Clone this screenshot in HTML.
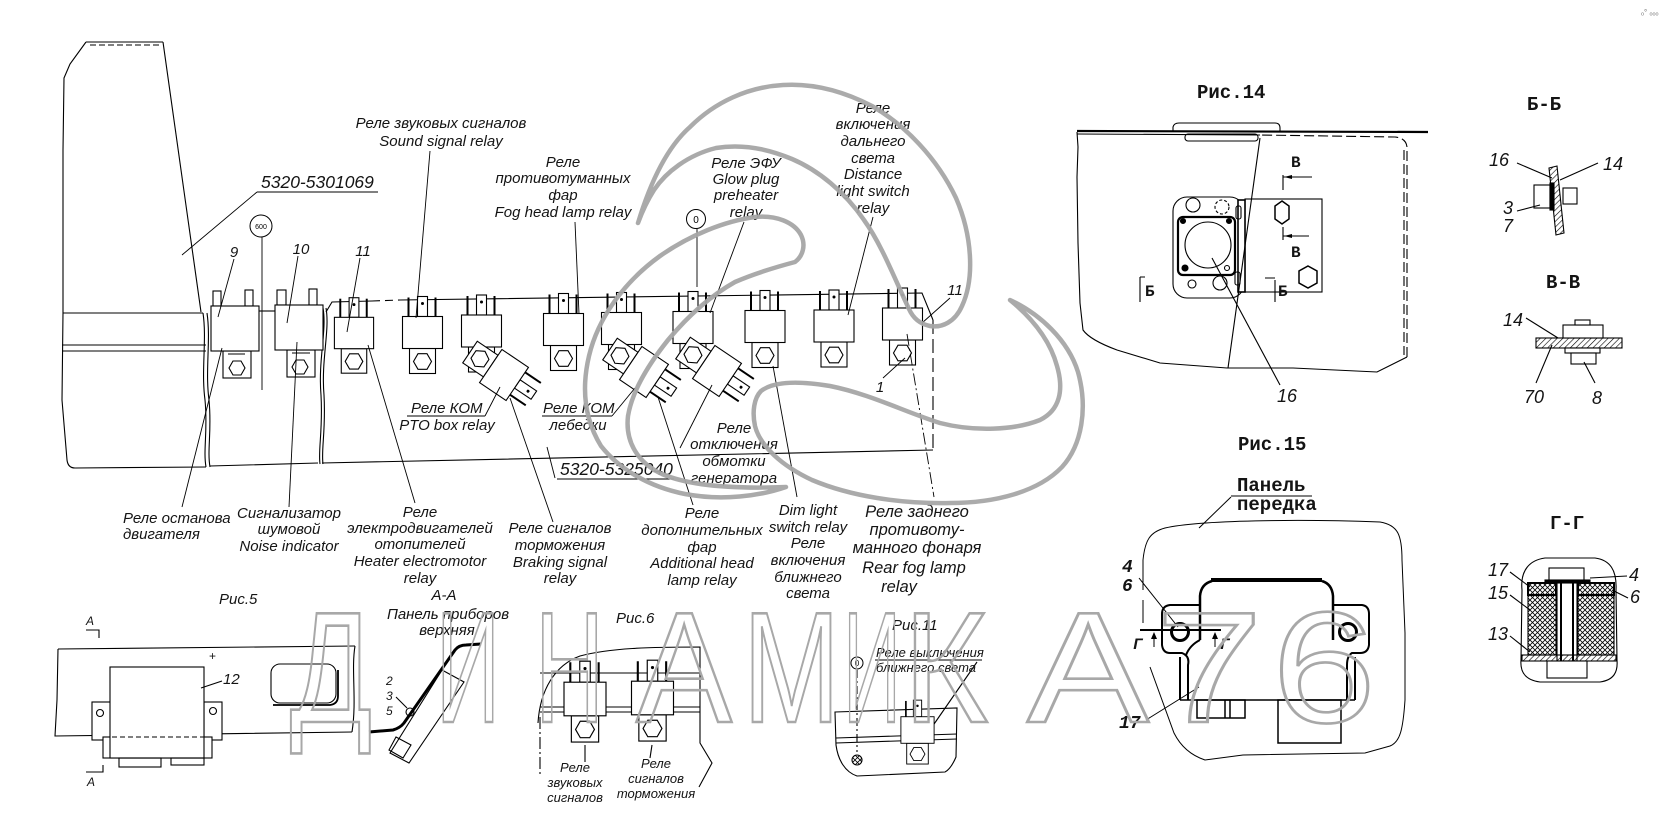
<!DOCTYPE html>
<html><head><meta charset="utf-8">
<style>
html,body{margin:0;padding:0;background:#fff;overflow:hidden;}
svg{display:block;}
.l{font-family:"Liberation Sans","DejaVu Sans",sans-serif;font-style:italic;font-size:15px;fill:#141414;}
.c{text-anchor:middle;}
.s13{font-size:13px;}
.s16{font-size:16.5px;}
.big{font-size:17.5px;}
.m{font-family:"Liberation Mono","DejaVu Sans Mono",monospace;font-weight:bold;font-size:19px;fill:#141414;}
.mi{font-family:"Liberation Mono","DejaVu Sans Mono",monospace;font-weight:bold;font-style:italic;font-size:18px;fill:#141414;}
.n{font-family:"Liberation Sans","DejaVu Sans",sans-serif;font-style:italic;font-size:18px;fill:#141414;}
</style></head>
<body>
<svg width="1669" height="832" viewBox="0 0 1669 832" xmlns="http://www.w3.org/2000/svg">
<defs>
<g id="rel">
 <rect x="-5" y="-36" width="10" height="20" fill="#fff" stroke="#000" stroke-width="1.1"/>
 <circle cx="0" cy="-29" r="1.5" fill="#000"/>
 <line x1="-14" y1="-35" x2="-14" y2="-16" stroke="#000" stroke-width="2"/>
 <line x1="13" y1="-35" x2="13" y2="-16" stroke="#000" stroke-width="2"/>
 <rect x="-13" y="16" width="26" height="25" fill="#fff" stroke="#000" stroke-width="1.1"/>
 <polygon points="9,29 4.5,36.8 -4.5,36.8 -9,29 -4.5,21.2 4.5,21.2" fill="none" stroke="#000" stroke-width="1.1"/>
 <rect x="-20" y="-16" width="40" height="32" fill="#fff" stroke="#000" stroke-width="1.1"/>
</g>
<pattern id="xh" width="5" height="5" patternUnits="userSpaceOnUse"><path d="M0,0L5,5M5,0L0,5" stroke="#000" stroke-width="0.8"/></pattern>
<pattern id="hh" width="4" height="4" patternUnits="userSpaceOnUse" patternTransform="rotate(45)"><line x1="0" y1="0" x2="0" y2="4" stroke="#000" stroke-width="1.2"/></pattern>
</defs>

<g fill="none" stroke="#000" stroke-width="1.1">
<!-- tall panel -->
<line x1="86" y1="42" x2="163" y2="42"/>
<line x1="90" y1="45" x2="162" y2="45" stroke-dasharray="6,3"/>
<path d="M86,42 L70,64 L64,78 L63,150 L63,313 L62,400 L67,460 Q68,468 75,468"/>
<path d="M163,42 L201,312"/>
<line x1="63" y1="313" x2="203" y2="313"/>
<line x1="62" y1="345" x2="206" y2="345"/>
<line x1="62" y1="351" x2="206" y2="351"/>
<path d="M203,313 C207,340 201,370 205,400 C208,430 203,450 206,467"/>
<path d="M207,313 C211,340 205,370 209,400 C212,430 207,450 210,467"/>
<path d="M323,308 C327,330 318,360 321,395 C323,430 318,450 320,464"/>
<path d="M326,308 C330,330 321,360 324,395 C326,430 321,450 323,464"/>
<path d="M75,468 L206,467 M210,466 L318,463 M322,463 L933,450"/>
<!-- rail -->
<path d="M326,312 L332,302 L372,301"/>
<path d="M372,301 L400,300" stroke-dasharray="8,5"/>
<path d="M400,300 L922,293 L933,320"/>
<path d="M933,320 L933,450" stroke-dasharray="14,5"/>
<!-- relay 9 -->
<rect x="213" y="291" width="8" height="15" fill="#fff"/>
<rect x="245" y="290" width="8" height="16" fill="#fff"/>
<rect x="223" y="351" width="28" height="27" fill="#fff"/>
<line x1="228" y1="354" x2="245" y2="354"/>
<polygon points="245,368 241,375 233,375 229,368 233,361 241,361"/>
<rect x="211" y="306" width="48" height="45" fill="#fff"/>
<line x1="259" y1="311" x2="275" y2="311"/>
<!-- relay 10 -->
<rect x="277" y="290" width="9" height="15" fill="#fff"/>
<rect x="309" y="289" width="8" height="16" fill="#fff"/>
<rect x="287" y="350" width="28" height="27" fill="#fff"/>
<line x1="292" y1="353" x2="310" y2="353"/>
<polygon points="308,367 304,374 296,374 292,367 296,360 304,360"/>
<rect x="275" y="305" width="48" height="45" fill="#fff"/>
</g>

<!-- upright relays -->
<use href="#rel" transform="translate(354,333) scale(0.98)"/>
<use href="#rel" transform="translate(422.5,332.5)"/>
<use href="#rel" transform="translate(481.5,331)"/>
<use href="#rel" transform="translate(563.5,329.5)"/>
<use href="#rel" transform="translate(621.5,328.5)"/>
<use href="#rel" transform="translate(693,327.5)"/>
<use href="#rel" transform="translate(765,326.5)"/>
<use href="#rel" transform="translate(834,326)"/>
<use href="#rel" transform="translate(902.5,324)"/>
<!-- rotated relays -->
<use href="#rel" transform="translate(504,375) rotate(124)"/>
<use href="#rel" transform="translate(644,372) rotate(124)"/>
<use href="#rel" transform="translate(717,371) rotate(124)"/>

<!-- leaders main -->
<g fill="none" stroke="#000" stroke-width="0.9">
<line x1="257" y1="192" x2="378" y2="192"/>
<line x1="257" y1="192" x2="182" y2="255"/>
<line x1="262" y1="237" x2="262" y2="390"/>
<line x1="234" y1="259" x2="218" y2="317"/>
<line x1="298" y1="256" x2="287" y2="323"/>
<line x1="360" y1="258" x2="347" y2="332"/>
<line x1="430" y1="151" x2="416" y2="318"/>
<line x1="575" y1="222" x2="579" y2="314"/>
<line x1="744" y1="222" x2="710" y2="313"/>
<line x1="697" y1="229" x2="697" y2="287"/>
<line x1="873" y1="217" x2="848" y2="315"/>
<line x1="950" y1="298" x2="922" y2="323"/>
<line x1="883" y1="378" x2="905" y2="358"/>
<line x1="907" y1="334" x2="934" y2="497" stroke-dasharray="12,3,2,3"/>
<line x1="407" y1="416" x2="485" y2="416"/>
<line x1="485" y1="416" x2="500" y2="387"/>
<line x1="542" y1="416" x2="612" y2="416"/>
<line x1="612" y1="416" x2="635" y2="388"/>
<line x1="680" y1="448" x2="712" y2="385"/>
<line x1="547" y1="447" x2="555" y2="478"/>
<line x1="557" y1="479" x2="674" y2="479"/>
<line x1="510" y1="398" x2="553" y2="522"/>
<line x1="658" y1="397" x2="693" y2="505"/>
<line x1="773" y1="366" x2="797" y2="497"/>
<line x1="222" y1="348" x2="182" y2="507"/>
<line x1="297" y1="342" x2="289" y2="507"/>
<line x1="368" y1="345" x2="415" y2="503"/>
</g>
<circle cx="261" cy="226" r="11" fill="#fff" stroke="#000" stroke-width="1"/>
<text x="261" y="229" font-family="Liberation Sans,sans-serif" font-size="7" text-anchor="middle">600</text>
<circle cx="696" cy="219" r="9.5" fill="#fff" stroke="#000" stroke-width="1"/>
<text x="696" y="223" font-family="Liberation Sans,sans-serif" font-size="10" text-anchor="middle">0</text>

<!-- main labels -->
<g class="l">
<text class="c" x="441" y="128">Реле звуковых сигналов</text>
<text class="c" x="441" y="146">Sound signal relay</text>
<text class="big" x="261" y="188">5320-5301069</text>
<text class="c" x="563" y="167">Реле</text>
<text class="c" x="563" y="183">противотуманных</text>
<text class="c" x="563" y="200">фар</text>
<text class="c" x="563" y="217">Fog head lamp relay</text>
<text class="c" x="746" y="168">Реле ЭФУ</text>
<text class="c" x="746" y="184">Glow plug</text>
<text class="c" x="746" y="200">preheater</text>
<text class="c" x="746" y="217">relay</text>
<text class="c" x="873" y="113">Реле</text>
<text class="c" x="873" y="129">включения</text>
<text class="c" x="873" y="146">дальнего</text>
<text class="c" x="873" y="163">света</text>
<text class="c" x="873" y="179">Distance</text>
<text class="c" x="873" y="196">light switch</text>
<text class="c" x="873" y="213">relay</text>
<text class="c" x="234" y="257">9</text>
<text class="c" x="301" y="254">10</text>
<text class="c" x="363" y="256">11</text>
<text class="c" x="955" y="295">11</text>
<text class="c" x="880" y="392">1</text>
<text x="411" y="413">Реле КОМ</text>
<text class="c" x="447" y="430">PTO box relay</text>
<text x="543" y="413">Реле КОМ</text>
<text class="c" x="578" y="430">лебедки</text>
<text class="c" x="734" y="433">Реле</text>
<text class="c" x="734" y="449">отключения</text>
<text class="c" x="734" y="466">обмотки</text>
<text class="c" x="734" y="483">генератора</text>
<text class="big" x="560" y="475">5320-5325040</text>
<text x="123" y="523">Реле останова</text>
<text x="123" y="539">двигателя</text>
<text class="c" x="289" y="518">Сигнализатор</text>
<text class="c" x="289" y="534">шумовой</text>
<text class="c" x="289" y="551">Noise indicator</text>
<text class="c" x="420" y="517">Реле</text>
<text class="c" x="420" y="533">электродвигателей</text>
<text class="c" x="420" y="549">отопителей</text>
<text class="c" x="420" y="566">Heater electromotor</text>
<text class="c" x="420" y="583">relay</text>
<text class="c" x="560" y="533">Реле сигналов</text>
<text class="c" x="560" y="550">торможения</text>
<text class="c" x="560" y="567">Braking signal</text>
<text class="c" x="560" y="583">relay</text>
<text class="c" x="702" y="518">Реле</text>
<text class="c" x="702" y="535">дополнительных</text>
<text class="c" x="702" y="552">фар</text>
<text class="c" x="702" y="568">Additional head</text>
<text class="c" x="702" y="585">lamp relay</text>
<text class="c" x="808" y="515">Dim light</text>
<text class="c" x="808" y="532">switch relay</text>
<text class="c" x="808" y="548">Реле</text>
<text class="c" x="808" y="565">включения</text>
<text class="c" x="808" y="582">ближнего</text>
<text class="c" x="808" y="598">света</text>
<text class="c s16" x="917" y="517">Реле заднего</text>
<text class="c s16" x="917" y="535">противоту-</text>
<text class="c s16" x="917" y="553">манного фонаря</text>
<text class="c s16" x="914" y="573">Rear fog lamp</text>
<text class="c s16" x="899" y="592">relay</text>
</g>

<!-- Рис.5 -->
<g fill="none" stroke="#000" stroke-width="1.1">
<path d="M58,649 L355,646"/>
<path d="M58,649 L57,700 L55,736 L352,732"/>
<path d="M355,646 C351,670 357,700 352,732"/>
<rect x="92" y="702" width="19" height="38" fill="#fff"/>
<rect x="204" y="702" width="18" height="38" fill="#fff"/>
<circle cx="100" cy="713" r="3.5"/>
<circle cx="213" cy="711" r="3.5"/>
<rect x="103" y="737" width="109" height="21" fill="#fff"/>
<rect x="110" y="667" width="94" height="91" fill="#fff"/>
<line x1="104" y1="737" x2="211" y2="737" stroke-dasharray="5,3"/>
<rect x="119" y="758" width="42" height="9"/>
<rect x="171" y="758" width="33" height="7"/>
<line x1="222" y1="681" x2="201" y2="688"/>
<rect x="271" y="664" width="65" height="39" rx="9"/>
<path d="M273,705 L330,705 Q338,704 338,696 L338,670" stroke-width="1.8"/>
<path d="M86,630 L99,630 L99,638"/>
<path d="M86,772 L103,772 L103,765"/>
<!-- A-A -->
<path d="M369,732 L393,730 Q400,728 404,723 L455,650 Q459,645 466,645 L481,644" stroke-width="3"/>
<polygon points="442,670 464,682 409,763 390,753"/>
<polygon points="396,737 411,745 403,758 389,750"/>
<circle cx="410" cy="712" r="4"/>
<line x1="396" y1="697" x2="407" y2="708"/>
<!-- Рис.6 -->
<path d="M538,723 C540,690 555,665 580,656 C610,648 650,647 700,647 L700,743 L712,763 L699,787"/>
<path d="M540,717 L540,775" stroke-dasharray="12,3,2,3"/>
<line x1="540" y1="673" x2="700" y2="673"/>
<line x1="540" y1="707" x2="700" y2="707"/>
<line x1="540" y1="712" x2="700" y2="712"/>
<line x1="585" y1="745" x2="585" y2="762"/>
<line x1="652" y1="745" x2="650" y2="758"/>
<!-- Рис.11 -->
<path d="M835,712 L957,708 L956,757 C953,764 949,770 945,772 L857,776 C845,772 838,760 836,745 Z"/>
<line x1="836" y1="738" x2="957" y2="734"/>
<line x1="836" y1="743" x2="957" y2="739"/>
<line x1="857" y1="670" x2="857" y2="752" stroke-dasharray="8,3,2,3"/>
<circle cx="857" cy="760" r="5" fill="url(#xh)"/>
<line x1="875" y1="660" x2="982" y2="660"/>
<line x1="932" y1="727" x2="977" y2="662"/>
</g>
<use href="#rel" transform="translate(585,699) scale(1.05)"/>
<use href="#rel" transform="translate(652.5,698) scale(1.05)"/>
<use href="#rel" transform="translate(917.5,730) scale(0.83)"/>
<circle cx="857" cy="663" r="6" fill="#fff" stroke="#000" stroke-width="1"/>
<text x="857" y="666" font-family="Liberation Sans,sans-serif" font-size="8" text-anchor="middle">0</text>

<g class="l">
<text x="219" y="604">Рис.5</text>
<text class="c" x="444" y="600">А-А</text>
<text class="c" x="448" y="619">Панель приборов</text>
<text class="c" x="447" y="635">верхняя</text>
<text x="616" y="623">Рис.6</text>
<text x="892" y="630">Рис.11</text>
<text class="s13" x="876" y="657">Реле выключения</text>
<text class="s13" x="876" y="672">ближнего света</text>
<text class="c s13" x="575" y="772">Реле</text>
<text class="c s13" x="575" y="787">звуковых</text>
<text class="c s13" x="575" y="802">сигналов</text>
<text class="c s13" x="656" y="768">Реле</text>
<text class="c s13" x="656" y="783">сигналов</text>
<text class="c s13" x="656" y="798">торможения</text>
<text x="223" y="684">12</text>
<text x="209" y="660" font-size="12" font-style="normal">+</text>
<text x="86" y="625" font-size="12">A</text>
<text x="87" y="786" font-size="12">A</text>
<text x="386" y="685" font-size="12">2</text>
<text x="386" y="700" font-size="12">3</text>
<text x="386" y="715" font-size="12">5</text>
</g>

<!-- Рис.14 -->
<g fill="none" stroke="#000" stroke-width="1.1">
<line x1="1077" y1="131" x2="1428" y2="132" stroke-width="2.2"/>
<line x1="1077" y1="134" x2="1260" y2="135"/>
<path d="M1173,131 L1173,127 Q1174,123 1179,123 L1275,123 Q1280,123 1280,128 L1280,131"/>
<rect x="1185" y="134" width="73" height="7" rx="3"/>
<path d="M1077,132 L1078,147 L1077,177 L1078,243 L1080,303 L1083,330 Q1090,340 1117,350 L1160,363 L1227,368 L1293,368 L1377,372 L1387,367 L1407,357"/>
<path d="M1407,357 L1407,147 Q1406,138 1395,137 L1260,135" stroke-dasharray="10,4"/>
<line x1="1404" y1="150" x2="1404" y2="355" stroke-dasharray="10,4"/>
<rect x="1173" y="197" width="71" height="101" rx="14" fill="#fff"/>
<rect x="1178" y="217" width="57" height="58" rx="5" stroke-width="2.2"/>
<circle cx="1208" cy="245" r="23"/>
<circle cx="1183" cy="221" r="2.5" fill="#000"/>
<circle cx="1229" cy="221" r="2.5" fill="#000"/>
<circle cx="1185" cy="268" r="3" fill="#000"/>
<circle cx="1227" cy="268" r="2.5"/>
<circle cx="1193" cy="205" r="7"/>
<circle cx="1222" cy="207" r="7" stroke-dasharray="3,2"/>
<circle cx="1220" cy="283" r="7"/>
<circle cx="1192" cy="284" r="4"/>
<rect x="1245" y="199" width="77" height="93" fill="#fff"/>
<rect x="1238" y="200" width="7" height="92" fill="#fff" stroke-width="1.6"/>
<rect x="1236" y="206" width="5" height="13" rx="2"/>
<rect x="1235" y="272" width="5" height="13" rx="2"/>
<polygon points="1282,201 1289,206 1289,219 1282,224 1275,219 1275,206" stroke-width="1.5"/>
<polygon points="1308,266 1317,271 1317,283 1308,288 1299,283 1299,271" stroke-width="1.5"/>
<path d="M1283,175 L1283,190 M1283,177 L1312,177"/>
<path d="M1283,227 L1283,240 M1283,236 L1309,236"/>
<path d="M1140,277 L1140,302 M1140,277 L1145,277"/>
<path d="M1275,280 L1275,302 M1265,278 L1275,278"/>
<line x1="1260" y1="138" x2="1228" y2="368"/>
<line x1="1212" y1="258" x2="1280" y2="385"/>
</g>
<polygon points="1284,177 1292,175 1292,179" fill="#000"/>
<polygon points="1284,236 1292,234 1292,238" fill="#000"/>
<g class="m">
<text x="1197" y="98">Рис.14</text>
<text x="1527" y="110">Б-Б</text>
<text x="1546" y="288">В-В</text>
<text x="1238" y="450">Рис.15</text>
<text x="1550" y="529">Г-Г</text>
<text x="1237" y="491">Панель</text>
<text x="1237" y="510">передка</text>
<text x="1291" y="167" font-size="16">В</text>
<text x="1291" y="257" font-size="16">В</text>
<text x="1145" y="296" font-size="16">Б</text>
<text x="1278" y="296" font-size="16">Б</text>
</g>
<g class="n">
<text x="1277" y="402">16</text>
<text x="1489" y="166">16</text>
<text x="1603" y="170">14</text>
<text x="1503" y="214">3</text>
<text x="1503" y="232">7</text>
<text x="1503" y="326">14</text>
<text x="1524" y="403">70</text>
<text x="1592" y="404">8</text>
<text x="1488" y="576">17</text>
<text x="1488" y="599">15</text>
<text x="1488" y="640">13</text>
<text x="1629" y="581">4</text>
<text x="1630" y="603">6</text>
</g>

<!-- Б-Б / В-В / Г-Г -->
<g stroke="#000" stroke-width="1.1">
<polygon points="1549,168 1557,166 1564,233 1556,235" fill="url(#hh)"/>
<rect x="1534" y="185" width="16" height="23" fill="#fff"/>
<rect x="1550" y="183" width="4" height="27" fill="#000"/>
<rect x="1563" y="188" width="14" height="16" fill="#fff"/>
<line x1="1517" y1="163" x2="1552" y2="178"/>
<line x1="1598" y1="163" x2="1560" y2="180"/>
<line x1="1517" y1="211" x2="1540" y2="205"/>
<rect x="1536" y="338" width="86" height="10" fill="url(#hh)"/>
<rect x="1563" y="325" width="40" height="13" fill="#fff"/>
<rect x="1575" y="320" width="15" height="5" fill="#fff"/>
<rect x="1565" y="348" width="35" height="5" fill="#fff"/>
<rect x="1571" y="353" width="25" height="11" fill="#fff"/>
<line x1="1526" y1="318" x2="1558" y2="338"/>
<line x1="1536" y1="383" x2="1552" y2="345"/>
<line x1="1595" y1="383" x2="1584" y2="362"/>
<path d="M1522,590 C1520,570 1530,560 1545,558 L1595,558 C1610,560 1617,570 1616,590 L1617,660 C1618,672 1614,680 1600,682 L1540,682 C1525,680 1520,672 1521,660 Z" fill="none"/>
<rect x="1528" y="595" width="28" height="60" fill="url(#xh)"/>
<rect x="1578" y="595" width="36" height="60" fill="url(#xh)"/>
<rect x="1528" y="583" width="28" height="12" fill="url(#xh)" stroke-width="2"/>
<rect x="1578" y="583" width="36" height="12" fill="url(#xh)" stroke-width="2"/>
<rect x="1557" y="582" width="20" height="79" fill="#fff"/>
<line x1="1561" y1="582" x2="1561" y2="661" stroke-width="2"/>
<line x1="1573" y1="582" x2="1573" y2="661" stroke-width="2"/>
<rect x="1549" y="568" width="35" height="13" fill="#fff"/>
<rect x="1545" y="580" width="45" height="3" fill="#000"/>
<rect x="1522" y="655" width="94" height="6" fill="url(#hh)"/>
<rect x="1547" y="661" width="40" height="17" fill="#fff"/>
<line x1="1510" y1="572" x2="1530" y2="587"/>
<line x1="1627" y1="576" x2="1590" y2="578"/>
<line x1="1510" y1="595" x2="1530" y2="610"/>
<line x1="1628" y1="598" x2="1612" y2="590"/>
<line x1="1510" y1="636" x2="1530" y2="652"/>
</g>

<!-- Рис.15 -->
<g fill="none" stroke="#000">
<line x1="1231" y1="496" x2="1312" y2="496" stroke-width="1"/>
<line x1="1231" y1="497" x2="1199" y2="528" stroke-width="1"/>
<path d="M1143,590 L1143,560 C1145,540 1150,532 1165,528 C1200,520 1300,519 1380,522 C1398,525 1402,535 1402,560 L1405,633 L1405,700 C1403,730 1400,742 1390,746 L1365,753 L1243,755 L1205,760 C1190,755 1180,745 1174,733 L1150,667" stroke-width="1"/>
<line x1="1143" y1="600" x2="1143" y2="623" stroke-width="1"/>
<line x1="1211" y1="580" x2="1322" y2="580" stroke-width="4"/>
<path d="M1212,581 Q1201,584 1200,596 L1200,640" stroke-width="2.5"/>
<path d="M1322,581 Q1332,584 1333,596 L1333,640" stroke-width="2.5"/>
<path d="M1200,605 L1170,605 Q1162,606 1162,614 L1162,645 Q1163,653 1170,653 L1182,653 Q1190,656 1188,665 L1188,700" stroke-width="2"/>
<path d="M1200,640 Q1190,645 1186,655" stroke-width="2"/>
<line x1="1180" y1="657" x2="1180" y2="700" stroke-width="2"/>
<path d="M1333,605 L1362,605 Q1369,606 1369,614 L1369,645 Q1368,653 1360,653 L1352,653 Q1347,656 1347,665 L1347,700" stroke-width="2"/>
<line x1="1355" y1="657" x2="1355" y2="700" stroke-width="2"/>
<line x1="1180" y1="700" x2="1355" y2="700" stroke-width="1.5"/>
<circle cx="1180" cy="632" r="8.5" stroke-width="3" fill="#fff"/>
<circle cx="1348" cy="632" r="8.5" stroke-width="3" fill="#fff"/>
<rect x="1197" y="700" width="48" height="18" stroke-width="1.5"/>
<line x1="1225" y1="700" x2="1225" y2="718" stroke-width="1.5"/>
<line x1="1230" y1="700" x2="1230" y2="718" stroke-width="1.5"/>
<rect x="1278" y="700" width="63" height="43" stroke-width="1.5"/>
<line x1="1140" y1="630" x2="1221" y2="630" stroke-width="2"/>
<line x1="1154" y1="647" x2="1154" y2="636" stroke-width="1"/>
<line x1="1215" y1="647" x2="1215" y2="636" stroke-width="1"/>
<line x1="1139" y1="578" x2="1178" y2="627" stroke-width="1"/>
<line x1="1146" y1="720" x2="1199" y2="687" stroke-width="1"/>
</g>
<polygon points="1154,632 1151,639 1157,639" fill="#000"/>
<polygon points="1215,632 1212,639 1218,639" fill="#000"/>
<g class="mi">
<text x="1122" y="572">4</text>
<text x="1122" y="591">6</text>
<text x="1119" y="728">17</text>
<text x="1133" y="649" font-size="16">Г</text>
<text x="1220" y="649" font-size="16">Г</text>
</g>
<text x="1641" y="15" font-family="Liberation Sans,sans-serif" font-size="8" fill="#777">ₒ° ₒₒₒ</text>

<!-- watermark -->
<g fill="none" stroke="#a6a6a6" stroke-width="4.5" stroke-linejoin="round" opacity="0.95">
<path d="M638,223 C648,190 664,150 690,127 C715,102 748,87 783,85 C815,83 845,92 872,106 C905,125 937,158 956,198 C972,235 975,278 962,306 C955,322 942,328 930,326 C920,324 913,318 909,309 C896,282 882,245 864,220 C845,192 818,170 792,159 C766,148 740,144 716,148 C688,155 666,172 654,190 C647,201 642,212 638,223 Z"/>
<path d="M1010,300 C1040,314 1068,340 1078,372 C1088,408 1082,445 1062,467 C1038,492 995,503 950,503 C900,504 850,496 812,480 C782,466 760,446 755,426 C752,412 754,398 761,391 C774,381 800,381 830,386 C870,394 905,412 940,423 C975,432 1015,430 1040,420 C1060,410 1064,390 1057,366 C1050,340 1032,318 1010,300 Z"/>
<path d="M786,487 C760,496 722,501 685,494 C650,487 620,470 601,446 C585,420 581,390 589,356 C598,318 624,282 660,256 C690,235 725,221 755,217 C776,215 794,222 801,235 C806,245 803,256 795,262 C780,266 758,272 735,282 C710,296 688,316 668,340 C648,365 632,392 628,416 C625,442 638,463 662,474 C690,486 735,489 786,487 Z"/>
</g>
<g font-family="Liberation Sans, sans-serif" font-size="158" fill="none" stroke="#a8a8a8" stroke-width="2.6">
<text x="290" y="722" textLength="82" lengthAdjust="spacingAndGlyphs">Д</text>
<text x="436" y="722" textLength="64" lengthAdjust="spacingAndGlyphs">И</text>
<text x="535" y="722" textLength="69" lengthAdjust="spacingAndGlyphs">Н</text>
<text x="636" y="722" textLength="96" lengthAdjust="spacingAndGlyphs">А</text>
<text x="743" y="722" textLength="97" lengthAdjust="spacingAndGlyphs">М</text>
<text x="843" y="722" textLength="58" lengthAdjust="spacingAndGlyphs">И</text>
<text x="903" y="722" textLength="85" lengthAdjust="spacingAndGlyphs">К</text>
<text x="1027" y="722" textLength="122" lengthAdjust="spacingAndGlyphs">А</text>
<text x="1155" y="722" textLength="108" lengthAdjust="spacingAndGlyphs">7</text>
<text x="1272" y="722" textLength="104" lengthAdjust="spacingAndGlyphs">6</text>
</g>
</svg>
</body></html>
